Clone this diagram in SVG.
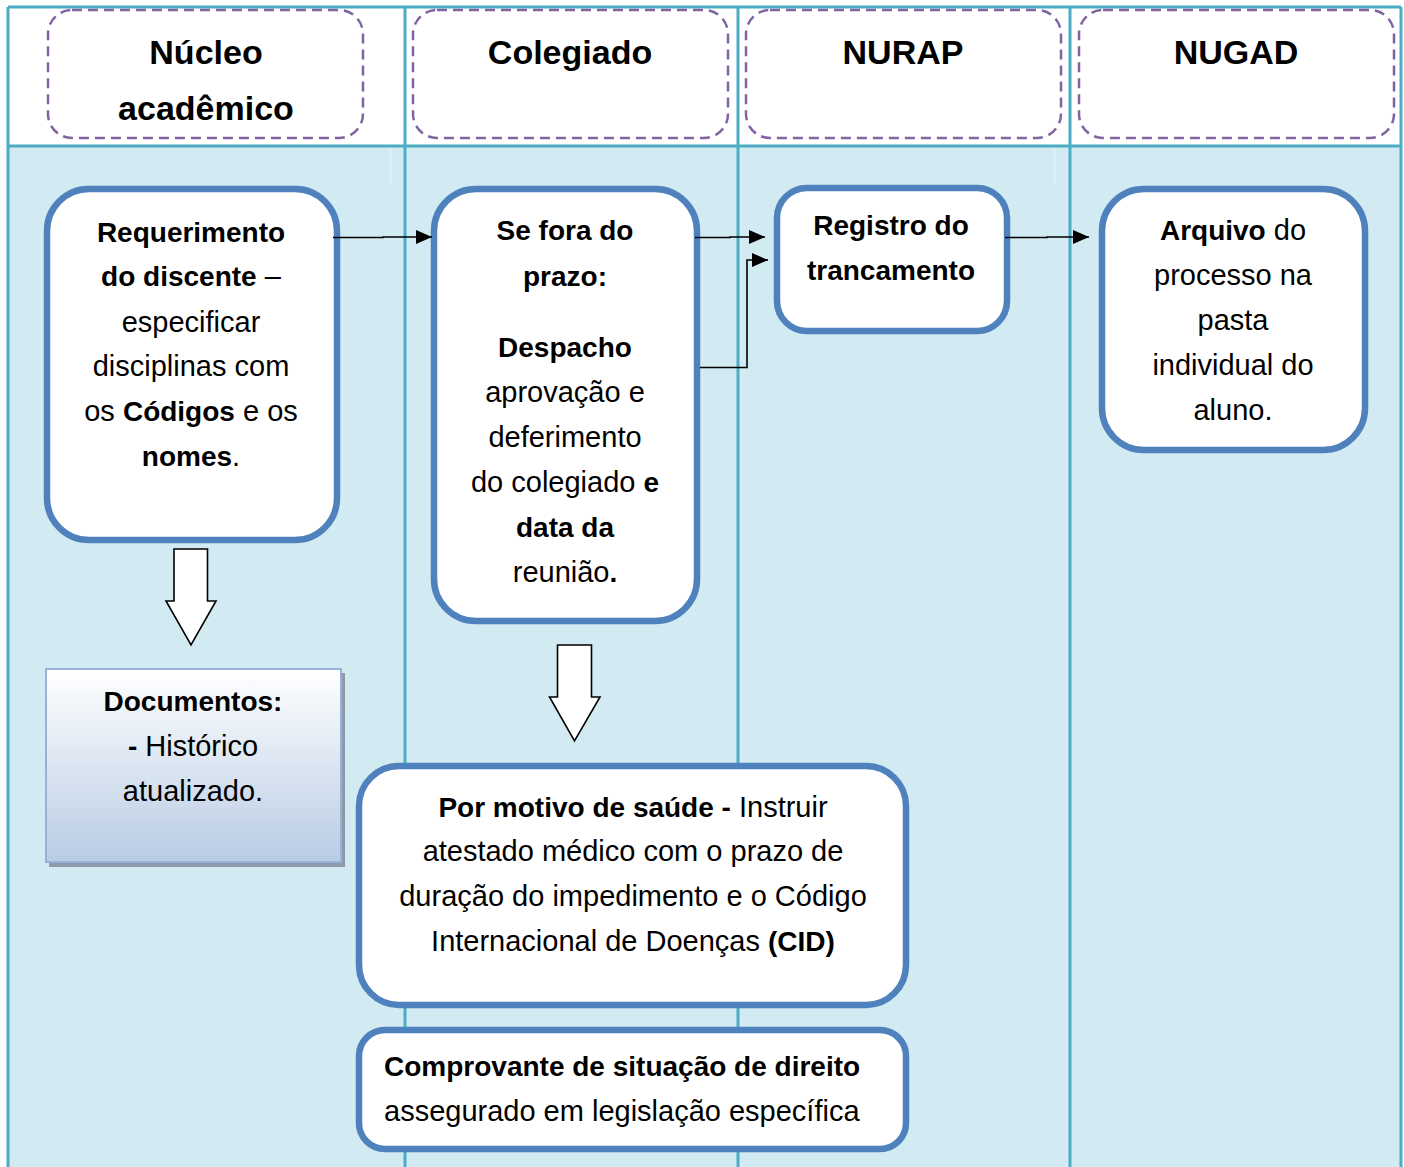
<svg xmlns="http://www.w3.org/2000/svg" width="1404" height="1167" viewBox="0 0 1404 1167">
  <defs>
    <style>
      .hdrbox { fill: #FFFFFF; stroke: #8064A2; stroke-width: 2.5; stroke-dasharray: 10 6; }
      .hdr { font-family: "Liberation Sans", Arial, sans-serif; font-size: 34px; font-weight: bold; fill: #000; text-anchor: middle; }
      .node { fill: #FFFFFF; stroke: #4F81BD; stroke-width: 6.5; }
      .t { font-family: "Liberation Sans", Arial, sans-serif; font-size: 29px; fill: #000; text-anchor: middle; }
      .ts { font-family: "Liberation Sans", Arial, sans-serif; font-size: 29px; fill: #000; }
      .b { font-weight: bold; font-size: 28px; }
      .grid { stroke: #4BACC6; stroke-width: 3; fill: none; }
      .conn { fill: none; stroke: #000; stroke-width: 1.6; }
      .block { fill: #FFFFFF; stroke: #000; stroke-width: 1.6; stroke-linejoin: miter; }
    </style>
    <marker id="arr" markerWidth="16" markerHeight="14" refX="16" refY="7" orient="auto" markerUnits="userSpaceOnUse">
      <path d="M0,0 L16,7 L0,14 Z" fill="#000"/>
    </marker>
    <linearGradient id="docgrad" x1="0" y1="0" x2="0" y2="1">
      <stop offset="0" stop-color="#FFFFFF"/>
      <stop offset="1" stop-color="#B8CCE4"/>
    </linearGradient>
  </defs>

  <!-- background -->
  <rect x="0" y="0" width="1404" height="1167" fill="#FFFFFF"/>
  <rect x="8" y="146" width="1393" height="1021" fill="#D2EAF1"/>

  <!-- table grid -->
  <g id="grid">
    <line class="grid" x1="8" y1="7" x2="1401" y2="7"/>
    <line class="grid" x1="8" y1="146" x2="1401" y2="146" stroke-width="3.5"/>
    <line class="grid" x1="8" y1="7" x2="8" y2="1167"/>
    <line class="grid" x1="405" y1="7" x2="405" y2="1167"/>
    <line class="grid" x1="738" y1="7" x2="738" y2="1167"/>
    <line class="grid" x1="1070" y1="7" x2="1070" y2="1167"/>
    <line class="grid" x1="1401" y1="7" x2="1401" y2="1167"/>
    <line x1="391" y1="149" x2="391" y2="185" stroke="#FFFFFF" stroke-width="1" opacity="0.6"/>
    <line x1="1055" y1="149" x2="1055" y2="185" stroke="#FFFFFF" stroke-width="1" opacity="0.6"/>
  </g>

  <!-- lane headers -->
  <g id="hdr-nucleo">
    <rect class="hdrbox" x="48" y="10" width="315" height="128" rx="24"/>
    <text class="hdr" x="206" y="64">Núcleo</text>
    <text class="hdr" x="206" y="120">acadêmico</text>
  </g>
  <g id="hdr-colegiado">
    <rect class="hdrbox" x="413" y="10" width="315" height="128" rx="24"/>
    <text class="hdr" x="570" y="64">Colegiado</text>
  </g>
  <g id="hdr-nurap">
    <rect class="hdrbox" x="746" y="10" width="315" height="128" rx="24"/>
    <text class="hdr" x="903" y="64">NURAP</text>
  </g>
  <g id="hdr-nugad">
    <rect class="hdrbox" x="1079" y="10" width="315" height="128" rx="24"/>
    <text class="hdr" x="1236" y="64">NUGAD</text>
  </g>

  <!-- nodes -->
  <g id="requerimento">
    <rect class="node" x="47" y="189" width="290" height="351" rx="42"/>
    <text class="t b" x="191" y="242">Requerimento</text>
    <text class="t" x="191" y="286"><tspan class="b">do discente</tspan> –</text>
    <text class="t" x="191" y="332">especificar</text>
    <text class="t" x="191" y="376">disciplinas com</text>
    <text class="t" x="191" y="421">os <tspan class="b">Códigos</tspan> e os</text>
    <text class="t" x="191" y="466"><tspan class="b">nomes</tspan>.</text>
  </g>

  <g id="documentos">
    <rect x="49" y="673" width="296" height="194" fill="#8E99AB"/>
    <rect x="46" y="669" width="295" height="193" fill="url(#docgrad)" stroke="#95B3D7" stroke-width="2"/>
    <text class="t b" x="193" y="711">Documentos:</text>
    <text class="t" x="193" y="756"><tspan class="b">-</tspan> Histórico</text>
    <text class="t" x="193" y="801">atualizado.</text>
  </g>

  <g id="sefora">
    <rect class="node" x="434" y="189" width="263" height="432" rx="42"/>
    <text class="t b" x="565" y="240">Se fora do</text>
    <text class="t b" x="565" y="286">prazo:</text>
    <text class="t b" x="565" y="357">Despacho</text>
    <text class="t" x="565" y="402">aprovação e</text>
    <text class="t" x="565" y="447">deferimento</text>
    <text class="t" x="565" y="492">do colegiado <tspan class="b">e</tspan></text>
    <text class="t b" x="565" y="537">data da</text>
    <text class="t" x="565" y="582">reunião<tspan class="b">.</tspan></text>
  </g>

  <g id="registro">
    <rect class="node" x="777" y="188" width="230" height="143" rx="30"/>
    <text class="t b" x="891" y="235">Registro do</text>
    <text class="t b" x="891" y="280">trancamento</text>
  </g>

  <g id="arquivo">
    <rect class="node" x="1102" y="189" width="263" height="261" rx="42"/>
    <text class="t" x="1233" y="240"><tspan class="b">Arquivo</tspan> do</text>
    <text class="t" x="1233" y="285">processo na</text>
    <text class="t" x="1233" y="330">pasta</text>
    <text class="t" x="1233" y="375">individual do</text>
    <text class="t" x="1233" y="420">aluno.</text>
  </g>

  <g id="saude">
    <rect class="node" x="359" y="766" width="547" height="239" rx="40"/>
    <text class="t" x="633" y="817"><tspan class="b">Por motivo de saúde -</tspan> Instruir</text>
    <text class="t" x="633" y="861">atestado médico com o prazo de</text>
    <text class="t" x="633" y="906">duração do impedimento e o Código</text>
    <text class="t" x="633" y="951">Internacional de Doenças <tspan class="b">(CID)</tspan></text>
  </g>

  <g id="comprovante">
    <rect class="node" x="359" y="1030" width="547" height="119" rx="26"/>
    <text class="ts b" x="384" y="1076">Comprovante de situação de direito</text>
    <text class="ts" x="384" y="1121">assegurado em legislação específica</text>
  </g>

  <!-- connectors -->
  <g id="connectors">
    <path class="conn" d="M333,237.5 L383,237.5 L383,237 L432,237" marker-end="url(#arr)"/>
    <path class="conn" d="M695,237.5 L730,237.5 L730,237 L765,237" marker-end="url(#arr)"/>
    <path class="conn" d="M700,367.5 L747,367.5 L747,260 L768,260" marker-end="url(#arr)"/>
    <path class="conn" d="M1005,237.5 L1047,237.5 L1047,237 L1089,237" marker-end="url(#arr)"/>
    <path class="block" d="M174,549 L207.5,549 L207.5,601 L216,601 L191,645 L166,601 L174,601 Z"/>
    <path class="block" d="M557.5,645 L591.5,645 L591.5,697 L600,697 L574.5,741 L549.5,697 L557.5,697 Z"/>
  </g>
</svg>
